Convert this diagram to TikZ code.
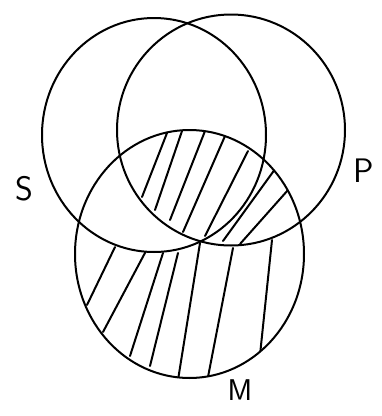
\documentclass[tikz,border=0pt]{standalone}
\begin{document}
\begin{tikzpicture}[x=1pt,y=-1pt,
  ring/.style={line width=2pt},
  hatch/.style={line width=2pt,line cap=round},
  lbl/.style={font=\sffamily\fontsize{34}{34}\selectfont, inner sep=0pt}]
\useasboundingbox (0,0) rectangle (382,416);
\fill[white] (0,0) rectangle (382,416);
% hatching clipped to M
\begin{scope}
  \clip (189.5,254) ellipse [x radius=114.5, y radius=124];
  \draw[hatch] (142,197) -- (167,133);
  \draw[hatch] (155,210) -- (182,131);
  \draw[hatch] (170,220) -- (205,131);
  \draw[hatch] (183,232) -- (225,136);
  \draw[hatch] (205,236) -- (248,151);
  \draw[hatch] (223,241) -- (278,165);
  \draw[hatch] (240,244) -- (288,190);
  \draw[hatch] (87,305) -- (115,247);
  \draw[hatch] (103,332) -- (146,251);
  \draw[hatch] (130,356) -- (163,253);
  \draw[hatch] (150,366) -- (178,253);
  \draw[hatch] (178,380) -- (200,243);
  \draw[hatch] (208,377) -- (233,248);
  \draw[hatch] (260,355) -- (272,240);
\end{scope}
% remove hatching from S minus P
\begin{scope}
  \clip (154,135) ellipse [x radius=112, y radius=117];
  \fill[white, even odd rule] (189.5,254) ellipse [x radius=114.5, y radius=124]
     (231,130) ellipse [x radius=114, y radius=115.5];
\end{scope}
% circles
\draw[ring] (154,135) ellipse [x radius=112, y radius=117];
\draw[ring] (231,130) ellipse [x radius=114, y radius=115.5];
\draw[ring] (189.5,254) ellipse [x radius=114.5, y radius=124];
% labels
\node[lbl] (s) at (24,189) {S};
\node[lbl] (p) at (364,171) {P};
\node[lbl,font=\sffamily\fontsize{30}{30}\selectfont] (m) at (240,390) {M};
\end{tikzpicture}
\end{document}
